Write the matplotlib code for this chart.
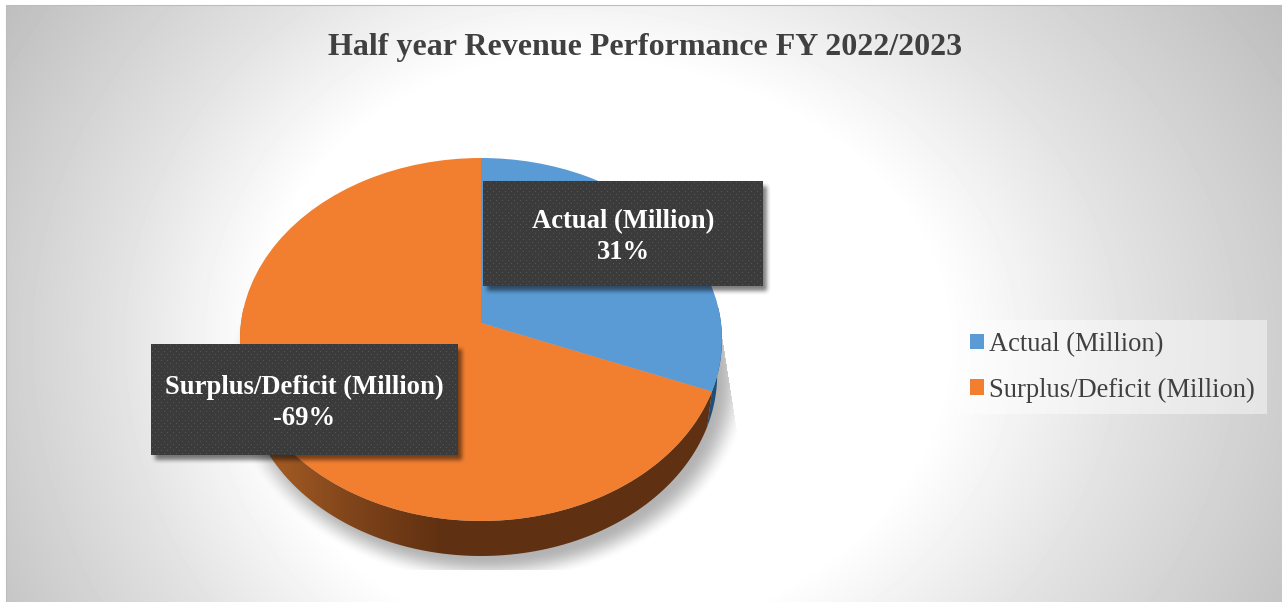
import numpy as np
import matplotlib
matplotlib.use("Agg")
import matplotlib.pyplot as plt
from matplotlib.patches import Polygon, Rectangle
from matplotlib.path import Path
from matplotlib.transforms import Transform

W, H = 1282, 602

title = "Half year Revenue Performance FY 2022/2023"
labels = ["Actual (Million)", "Surplus/Deficit (Million)"]
shares = [31, 69]
share_texts = ["31%", "-69%"]
colors = ["#5b9bd5", "#f27f30"]

APEX = (481.0, 323.0)
DEPTH = 35


def tilt_xy(u, v):
    # perspective of the unit circle onto the top face of the pie
    c = 0.0909
    w = 1 + c * v
    return APEX[0] + 240 * u / w, APEX[1] - 180 * v / w


class Tilt(Transform):
    input_dims = output_dims = 2

    def transform_non_affine(self, values):
        x, y = tilt_xy(values[:, 0], values[:, 1])
        return np.column_stack([x, y])

    def transform_path_non_affine(self, path):
        return Path(self.transform_non_affine(path.vertices), path.codes)


def rim_polygon(start, end):
    # angles in degrees clockwise from 12 o'clock
    t = np.radians(np.linspace(start, end, 120))
    x, y = tilt_xy(np.sin(t), np.cos(t))
    low_x = APEX[0] + (x - APEX[0]) * 0.98
    return np.vstack([np.column_stack([x, y]),
                      np.column_stack([low_x[::-1], y[::-1] + DEPTH])])


def blur(a, n):
    k = np.ones(n) / n
    for _ in range(2):
        a = np.apply_along_axis(lambda r: np.convolve(r, k, mode="same"), 0, a)
        a = np.apply_along_axis(lambda r: np.convolve(r, k, mode="same"), 1, a)
    return a


def box_shadow(ax, x0, y0, x1, y1):
    yy, xx = np.mgrid[0:H, 0:W]
    m = ((xx >= x0 + 4) & (xx < x1 + 4) & (yy >= y0 + 5) & (yy < y1 + 5)).astype(float)
    a = blur(m[y0 - 20:y1 + 30, x0 - 20:x1 + 30], 5) * 0.5
    rgba = np.zeros(a.shape + (4,))
    rgba[..., 3] = a
    ax.imshow(rgba, extent=(x0 - 20, x1 + 30, y1 + 30, y0 - 20), zorder=6,
              interpolation="bilinear", aspect="auto")


def label_box(ax, x0, y0, x1, y1, line1, line2):
    box_shadow(ax, x0, y0, x1, y1)
    h, w = y1 - y0, x1 - x0
    yy, xx = np.mgrid[0:h, 0:w]
    g = np.full((h, w), 0x3b / 255)
    g[((xx % 6 == 1) & (yy % 6 == 1)) | ((xx % 6 == 4) & (yy % 6 == 4))] = 0x56 / 255
    ax.imshow(g, cmap="gray", vmin=0, vmax=1, extent=(x0, x1, y1, y0), zorder=7,
              interpolation="bilinear", aspect="auto")
    cx = (x0 + x1) / 2
    ax.text(cx, (y0 + y1) / 2 - 12, line1, color="white", fontsize=19.2, fontweight="bold",
            ha="center", va="center", zorder=8)
    ax.text(cx, (y0 + y1) / 2 + 19, line2, color="white", fontsize=19.2, fontweight="bold",
            ha="center", va="center", zorder=8)


plt.rcParams["font.family"] = ["Liberation Serif", "DejaVu Serif"]
fig = plt.figure(figsize=(W / 100, H / 100), dpi=100, facecolor="white")
ax = fig.add_axes([0, 0, 1, 1])

wedges, _ = ax.pie(shares, colors=colors, startangle=90, counterclock=False)

# background gradient, white patch sits left of centre
yy, xx = np.mgrid[0:H, 0:W]
dx = np.where(xx < 560, (xx - 560) / 300.0, (xx - 560) / 385.0)
dy = np.where(yy < 340, (yy - 340) / 280.0, (yy - 340) / 300.0)
bg = np.interp(np.hypot(dx, dy), [0, 1.0, 1.5, 2.2, 2.6], [255, 255, 225, 190, 186]) / 255
bg[:5, :] = 1.0
bg[:, :6] = 1.0
ax.imshow(bg, cmap="gray", vmin=0, vmax=1, extent=(0, W, H, 0), zorder=0, aspect="auto")
ax.add_patch(Rectangle((6, 5), W, H, fill=False, ec="#bdbdbd", lw=0.8, zorder=1))

# soft shadow below the pie, cut off by straight edges
t = np.hypot((xx - 488) / 262.0, (yy - 378) / 205.0)
fade = np.clip((1.0 - t) / 0.13, 0, 1)
a = fade * fade * (3 - 2 * fade) * 0.3
a[xx > 716 + (yy - 300) * 0.157] = 0
a[yy > 569] = 0
a[yy < 300] = 0
shadow = np.zeros((H, W, 4))
shadow[..., 3] = a
ax.imshow(shadow, extent=(0, W, H, 0), zorder=1, aspect="auto")

# side of the pie
blue_end = 360 * shares[0] / sum(shares)
blue_rim = Polygon(rim_polygon(85, blue_end), closed=True, fc="#1f4e79", ec="none", zorder=2)
ax.add_patch(blue_rim)
orange_rim = Polygon(rim_polygon(blue_end, 275), closed=True, fc="none", ec="none", zorder=2)
ax.add_patch(orange_rim)
rim_col = np.interp(np.arange(W), [240, 280, 350, 443, 800], [0xb0, 0xa0, 0x80, 0x5f, 0x5f])
grad = np.stack([rim_col,
                 np.interp(rim_col, [0x5f, 0xb0], [0x30, 0x63]),
                 np.interp(rim_col, [0x5f, 0xb0], [0x11, 0x28])], axis=-1)[None, :, :] / 255
im = ax.imshow(grad, extent=(0, W, H, 0), zorder=2, aspect="auto")
im.set_clip_path(orange_rim)

# top face
tilt = Tilt() + ax.transData
for w in wedges:
    w.set_transform(tilt)
    w.set_zorder(3)
    w.set_edgecolor("none")

ax.set_aspect("auto")
ax.set_xlim(0, W)
ax.set_ylim(H, 0)
ax.axis("off")

ax.text(645, 48, title, color="#404040", fontsize=23, fontweight="bold",
        ha="center", va="center", zorder=8)

label_box(ax, 483, 181, 763, 286, labels[0], share_texts[0])
label_box(ax, 151, 344, 458, 455, labels[1], share_texts[1])
ax.set_xlim(0, W)
ax.set_ylim(H, 0)

leg = ax.legend(wedges, labels, loc="upper left", bbox_to_anchor=(958 / W, 1 - 320 / H),
                frameon=True, fancybox=False, framealpha=0.45, facecolor="white",
                edgecolor="none", fontsize=19.1, labelcolor="#404040", handlelength=0.525,
                handleheight=0.525, handletextpad=0.19, labelspacing=0.77, borderpad=0.45,
                borderaxespad=0)
leg.set_zorder(8)

fig.savefig("out.png", dpi=100)
plt.close(fig)
